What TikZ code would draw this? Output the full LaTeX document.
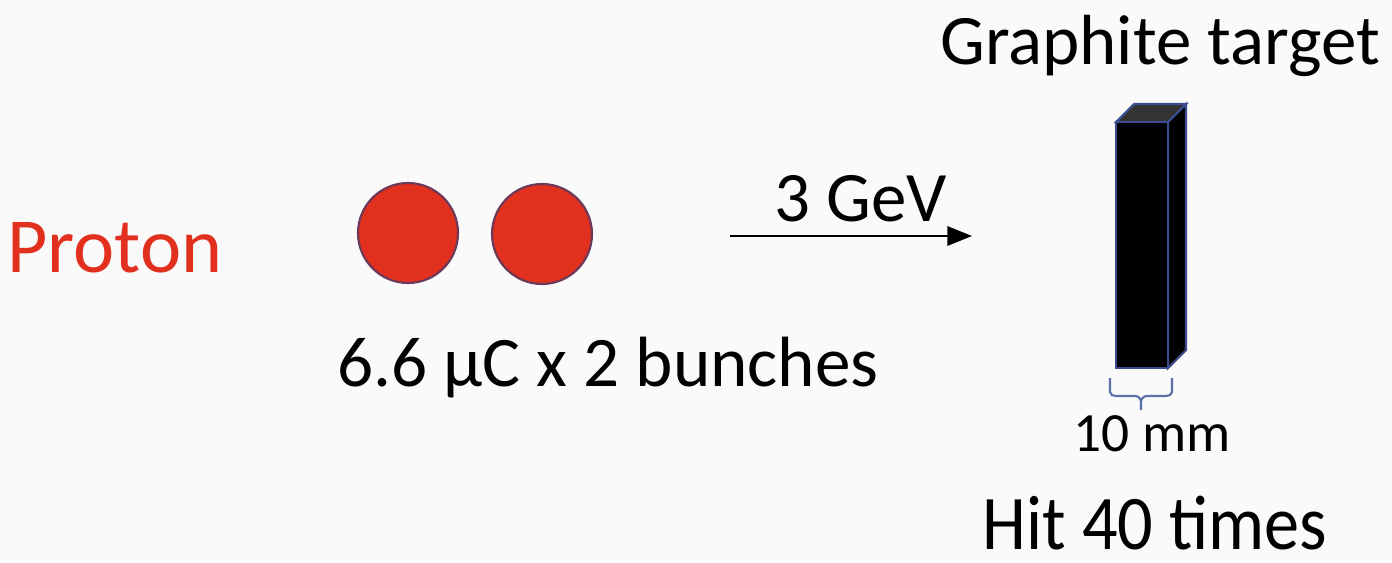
\documentclass[tikz,border=0pt]{standalone}
\usepackage{fontspec}
\setmainfont{Carlito}
\usepackage{xcolor}
\usetikzlibrary{arrows.meta}

\definecolor{bunchred}{HTML}{E2301F}
\definecolor{bunchedge}{HTML}{6A3858}
\definecolor{edgeblue}{HTML}{3C4C8E}
\definecolor{bracketblue}{HTML}{5B6FA8}

\tikzset{
    bunch/.style={circle,fill=bunchred,draw=bunchedge,line width=1.2pt,minimum size=100*0.02cm,inner sep=0pt},
    label/.style={inner sep=0pt,text=black}
}

\begin{document}
\begin{tikzpicture}[x=0.02cm,y=-0.02cm]
                \fill[white!98!black] (0,0) rectangle (1392,562);
                \useasboundingbox (0,0) rectangle (1392,562);
                \node[label,text=bunchred,font=\fontsize{44.4}{50}\selectfont] (proton) at (115,248) {Proton};
                \foreach \x/\y[count=\i] in {408/233, 542/234}
                \node[bunch] (bunch\i) at (\x,\y) {};
                \node[label,font=\fontsize{40.5}{46}\selectfont] (charge) at (608,368) {6.6 μC x 2 bunches};
                \coordinate (beamstart) at (730,236);
                \coordinate (beamend) at (972,236);
                \draw[line width=1.2pt,-{Triangle[length=14pt,width=11pt]}] (beamstart) -- (beamend);
                \node[label,font=\fontsize{40.4}{46}\selectfont] (energy) at (861,199) {3 GeV};
                % graphite bar: front, side and top faces
                \coordinate (fa) at (1116,122);
                \coordinate (fb) at (1168,122);
                \coordinate (fc) at (1168,368);
                \coordinate (fd) at (1116,368);
                \coordinate (ba) at (1134,104);
                \coordinate (bb) at (1186,104);
                \coordinate (bc) at (1186,350);
                \fill[black!80,draw=edgeblue,line width=1.2pt] (fa) -- (ba) -- (bb) -- (fb) -- cycle;
                \fill[black,draw=edgeblue,line width=1.2pt] (fb) -- (bb) -- (bc) -- (fc) -- cycle;
                \fill[black,draw=edgeblue,line width=1.2pt] (fa) rectangle (fc);
                \node[label,font=\fontsize{40.4}{46}\selectfont] (target) at (1160,46) {Graphite target};
                \draw[bracketblue,line width=1.2pt] (1110,378) -- (1110,392) to[out=-90,in=180] (1116,396) -- (1135,396)
                    to[out=0,in=90] (1141,402) -- (1141,410) (1141,402) to[out=90,in=180] (1147,396) -- (1166,396)
                    to[out=0,in=-90] (1172,392) -- (1172,378);
                \node[label,font=\fontsize{31.5}{36}\selectfont] (width) at (1152,434) {10 mm};
                \node[label,yscale=1.1,font=\fontsize{40}{46}\selectfont] (hits) at (1155,523) {Hit 40 times};
            \end{tikzpicture}
\end{document}
